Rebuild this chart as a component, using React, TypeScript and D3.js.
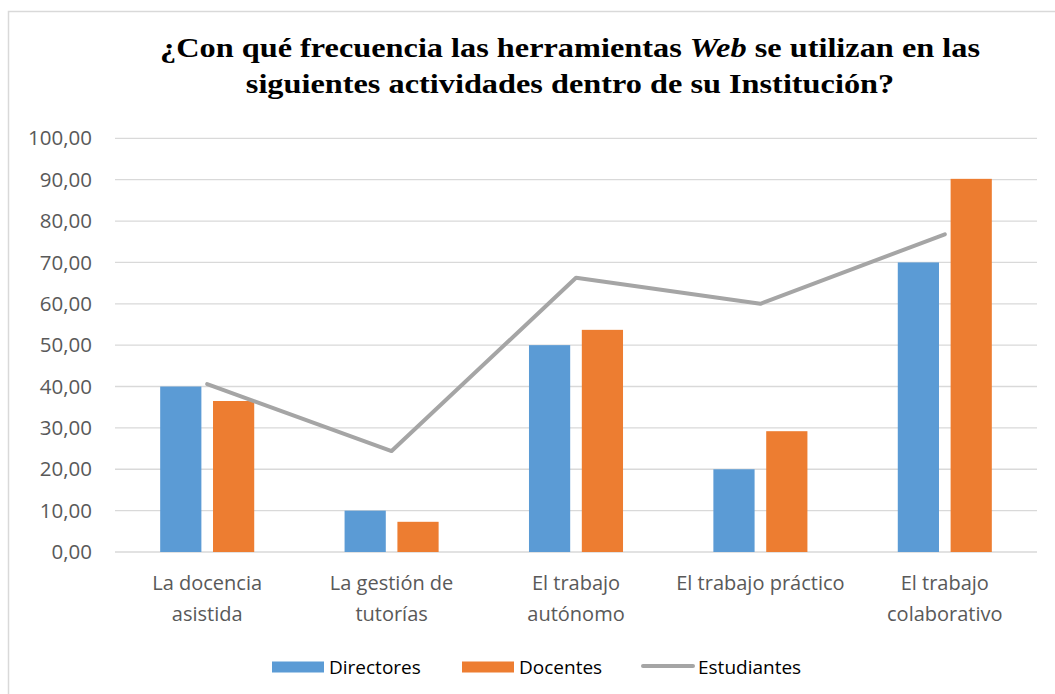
import React, { useRef, useEffect } from 'react';
import * as d3 from 'd3';

const W = 1055;
const H = 694;
const margin = { top: 138.3, right: 18, bottom: 142, left: 115 };

// chart data
const categories = [
  ['La docencia', 'asistida'],
  ['La gestión de', 'tutorías'],
  ['El trabajo', 'autónomo'],
  ['El trabajo práctico'],
  ['El trabajo', 'colaborativo'],
];
const directores = [40, 10, 50, 20, 70];
const docentes = [36.5, 7.3, 53.7, 29.2, 90.2];
const estudiantes = [40.6, 24.4, 66.3, 60.0, 76.8];
const yTicks = [0, 10, 20, 30, 40, 50, 60, 70, 80, 90, 100];
const barSeries = ['Directores', 'Docentes'];

const BLUE = '#5B9BD5';
const ORANGE = '#ED7D31';
const GREY = '#A5A5A5';
const SANS = '"Open Sans", Calibri, sans-serif';

const App = () => {
  const svgRef = useRef<SVGSVGElement>(null);

  useEffect(() => {
    const svg = d3.select(svgRef.current);
    svg.selectAll('*').remove();

    const x0 = margin.left;
    const x1 = W - margin.right;
    const yBottom = H - margin.bottom;

    // chart frame (runs off the right and bottom edges)
    svg.append('rect')
      .attr('x', 8.5).attr('y', 11.5)
      .attr('width', W + 20).attr('height', H + 20)
      .attr('fill', 'white')
      .attr('stroke', '#d9d9d9')
      .attr('stroke-width', 1.5);

    // title - the source picture is stretched sideways, so scale x a bit
    const title = svg.append('text')
      .attr('transform', 'translate(570,0) scale(1.175,1)')
      .attr('text-anchor', 'middle')
      .attr('font-family', '"Liberation Serif", "Times New Roman", serif')
      .attr('font-weight', 'bold')
      .attr('font-size', 27.5)
      .attr('fill', '#000');
    const t1 = title.append('tspan').attr('x', 0).attr('y', 57);
    t1.append('tspan').text('¿Con qué frecuencia las herramientas ');
    t1.append('tspan').attr('font-style', 'italic').text('Web');
    t1.append('tspan').text(' se utilizan en las');
    title.append('tspan').attr('x', 0).attr('y', 93)
      .text('siguientes actividades dentro de su Institución?');

    const y = d3.scaleLinear().domain([0, 100]).range([yBottom, margin.top]);
    const xBand = d3.scaleBand<number>()
      .domain(d3.range(categories.length))
      .range([x0, x1]);
    const bw = xBand.bandwidth();
    const groupW = bw * 0.51;
    const xInner = d3.scaleBand<string>()
      .domain(barSeries)
      .range([(bw - groupW) / 2, (bw + groupW) / 2])
      .paddingInner(0.22);

    // gridlines
    svg.append('g')
      .selectAll('line')
      .data(yTicks)
      .join('line')
      .attr('x1', x0).attr('x2', x1)
      .attr('y1', d => y(d)).attr('y2', d => y(d))
      .attr('stroke', '#d9d9d9')
      .attr('stroke-width', 1.3);

    // y tick labels
    svg.append('g')
      .selectAll('text')
      .data(yTicks)
      .join('text')
      .attr('x', 92)
      .attr('y', d => y(d))
      .attr('dy', '0.35em')
      .attr('text-anchor', 'end')
      .attr('font-family', SANS)
      .attr('font-size', 20.5)
      .attr('fill', '#595959')
      .text(d => d3.format('.2f')(d).replace('.', ','));

    // bars
    const seriesValues = [directores, docentes];
    const seriesColors = [BLUE, ORANGE];
    barSeries.forEach((s, si) => {
      svg.append('g')
        .selectAll('rect')
        .data(seriesValues[si])
        .join('rect')
        .attr('x', (_, i) => (xBand(i) as number) + (xInner(s) as number))
        .attr('y', d => y(d))
        .attr('width', xInner.bandwidth())
        .attr('height', d => yBottom - y(d))
        .attr('fill', seriesColors[si]);
    });

    // line series
    const line = d3.line<number>()
      .x((_, i) => (xBand(i) as number) + bw / 2)
      .y(d => y(d));
    svg.append('path')
      .datum(estudiantes)
      .attr('d', line)
      .attr('fill', 'none')
      .attr('stroke', GREY)
      .attr('stroke-width', 4)
      .attr('stroke-linejoin', 'round')
      .attr('stroke-linecap', 'round');

    // category labels
    categories.forEach((lines, i) => {
      const t = svg.append('text')
        .attr('text-anchor', 'middle')
        .attr('font-family', SANS)
        .attr('font-size', 20)
        .attr('fill', '#595959');
      lines.forEach((l, li) => {
        t.append('tspan')
          .attr('x', (xBand(i) as number) + bw / 2)
          .attr('y', 590 + li * 31)
          .text(l);
      });
    });

    // legend
    const legend = svg.append('g').attr('font-family', SANS).attr('font-size', 19).attr('fill', '#000');
    const legendItems = [
      { name: 'Directores', x: 272, color: BLUE, kind: 'rect' },
      { name: 'Docentes', x: 462, color: ORANGE, kind: 'rect' },
      { name: 'Estudiantes', x: 641, color: GREY, kind: 'line' },
    ];
    legendItems.forEach(it => {
      if (it.kind === 'rect') {
        legend.append('rect')
          .attr('x', it.x).attr('y', 661.5)
          .attr('width', 52).attr('height', 11)
          .attr('fill', it.color);
      } else {
        legend.append('line')
          .attr('x1', it.x + 2).attr('x2', it.x + 52)
          .attr('y1', 666).attr('y2', 666)
          .attr('stroke', it.color)
          .attr('stroke-width', 4)
          .attr('stroke-linecap', 'round');
      }
      legend.append('text')
        .attr('x', it.x + 57)
        .attr('y', 667)
        .attr('dy', '0.35em')
        .text(it.name);
    });
  }, []);

  return (
    <svg ref={svgRef} width={W} height={H}
      style={{ position: 'absolute', left: 0, top: 0, background: 'white' }} />
  );
};

export default App;
